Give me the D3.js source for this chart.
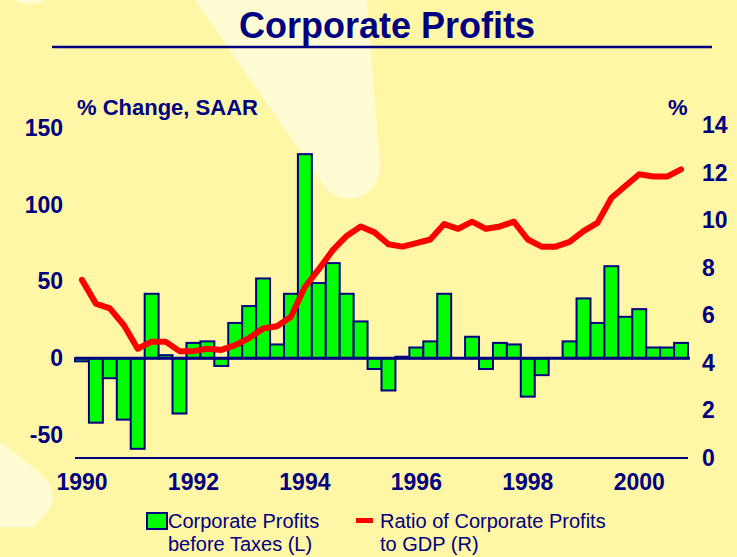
<!DOCTYPE html>
<html>
<head>
<meta charset="utf-8">
<script src="https://cdn.jsdelivr.net/npm/d3@7"></script>
<style>
  body { margin: 0; background: #fff6a6; }
  svg { display: block; font-family: "Liberation Sans", Arial, sans-serif; }
</style>
</head>
<body>
<script>
let width = 737;
let height = 557;

// quarterly data, 1990Q1 .. 2000Q4
let years = [1990, 1991, 1992, 1993, 1994, 1995, 1996, 1997, 1998, 1999, 2000];
let profitChange = [
  -2, -42, -13, -40,    // 1990
  -59, 42, 2, -36,      // 1991
  10, 11, -5, 23,       // 1992
  34, 52, 9, 42,        // 1993
  133, 49, 62, 42,      // 1994
  24, -7, -21, 1,       // 1995
  7, 11, 42, 0,         // 1996
  14, -7, 10, 9,        // 1997
  -25, -11, 0, 11,      // 1998
  39, 23, 60, 27,       // 1999
  32, 7, 7, 10          // 2000
];
let profitRatio = [
  7.5, 6.5, 6.3, 5.6,
  4.6, 4.9, 4.9, 4.5,
  4.5, 4.6, 4.55, 4.75,
  5.05, 5.45, 5.55, 5.95,
  7.2, 7.95, 8.75, 9.35,
  9.75, 9.5, 9.0, 8.9,
  9.05, 9.2, 9.85, 9.65,
  9.95, 9.65, 9.75, 9.95,
  9.2, 8.9, 8.9, 9.1,
  9.55, 9.9, 10.95, 11.45,
  11.95, 11.85, 11.85, 12.15
];
let leftTicks = [-50, 0, 50, 100, 150];
let rightTicks = [0, 2, 4, 6, 8, 10, 12, 14];
let yearTicks = [1990, 1992, 1994, 1996, 1998, 2000];
let legendItems = [
  { kind: "bar", lines: ["Corporate Profits", "before Taxes (L)"] },
  { kind: "line", lines: ["Ratio of Corporate Profits", "to GDP (R)"] }
];

let quarters = years.flatMap(y => [1, 2, 3, 4].map(q => y + "Q" + q));

let navy = "#000080";
let green = "#00ff00";
let red = "#ff0000";

let svg = d3.select("body").append("svg")
            .attr("width", width)
            .attr("height", height);

// background decoration
svg.append("rect").attr("width", width).attr("height", height).attr("fill", "#fff6a6");
svg.append("path")
   .attr("d", "M195,0 L367,0 L380,165 Q381,185 362,196 Q345,204 327,190 Z")
   .attr("fill", "#fffcd4");
svg.append("path")
   .attr("d", "M0,442 L33,467 Q52,480 53,497 Q53,510 33,527 L0,527 Z")
   .attr("fill", "#fffcd4");
svg.append("ellipse").attr("cx", 30).attr("cy", 0).attr("rx", 14).attr("ry", 4).attr("fill", "#fffcd4");

let plotLeft = 75;
let plotRight = 688;

let x = d3.scaleBand().domain(quarters).range([plotLeft, plotRight]).padding(0);
let yLeft = d3.scaleLinear().domain([-65, 152]).range([458, 125]);
let yRight = d3.scaleLinear().domain([0, 14]).range([458, 125.5]);

// title
svg.append("text")
   .attr("x", 387).attr("y", 38)
   .attr("text-anchor", "middle")
   .attr("font-size", 36).attr("font-weight", "bold")
   .attr("fill", navy)
   .text("Corporate Profits");
svg.append("line")
   .attr("x1", 52).attr("x2", 712).attr("y1", 47).attr("y2", 47)
   .attr("stroke", navy).attr("stroke-width", 2.5);

// axis titles
svg.append("text").attr("x", 77).attr("y", 115)
   .attr("font-size", 22).attr("font-weight", "bold").attr("fill", navy)
   .text("% Change, SAAR");
svg.append("text").attr("x", 668).attr("y", 115)
   .attr("font-size", 22).attr("font-weight", "bold").attr("fill", navy)
   .text("%");

function styleAxis(g) {
  g.select(".domain").remove();
  g.selectAll("text")
   .attr("font-size", 23).attr("font-weight", "bold")
   .attr("fill", navy)
   .attr("font-family", "\"Liberation Sans\", Arial, sans-serif");
}

svg.append("g")
   .attr("transform", "translate(" + plotLeft + ",0)")
   .call(d3.axisLeft(yLeft).tickValues(leftTicks).tickFormat(d => String(d)).tickSize(0).tickPadding(12))
   .call(styleAxis);

svg.append("g")
   .attr("transform", "translate(" + plotRight + ",0)")
   .call(d3.axisRight(yRight).tickValues(rightTicks).tickFormat(d => String(d)).tickSize(0).tickPadding(14))
   .call(styleAxis);

svg.append("g")
   .attr("transform", "translate(0,458)")
   .call(d3.axisBottom(x)
           .tickValues(yearTicks.map(y => y + "Q1"))
           .tickFormat(d => d.slice(0, 4))
           .tickSize(0).tickPadding(16))
   .call(styleAxis);

// bottom baseline
svg.append("line")
   .attr("x1", plotLeft).attr("x2", plotRight)
   .attr("y1", 458).attr("y2", 458)
   .attr("stroke", navy).attr("stroke-width", 2);

// bars
svg.append("g").selectAll("rect")
   .data(profitChange)
   .join("rect")
   .attr("x", (d, i) => x(quarters[i]))
   .attr("width", x.bandwidth())
   .attr("y", d => yLeft(Math.max(0, d)))
   .attr("height", d => Math.abs(yLeft(d) - yLeft(0)))
   .attr("fill", green)
   .attr("stroke", navy)
   .attr("stroke-width", 2);

// zero line
svg.append("line")
   .attr("x1", plotLeft).attr("x2", plotRight + 2)
   .attr("y1", yLeft(0)).attr("y2", yLeft(0))
   .attr("stroke", navy).attr("stroke-width", 3);

// ratio line
let line = d3.line()
             .x((d, i) => x(quarters[i]) + x.bandwidth() / 2)
             .y(d => yRight(d));

svg.append("path")
   .datum(profitRatio)
   .attr("d", line)
   .attr("fill", "none")
   .attr("stroke", red)
   .attr("stroke-width", 6)
   .attr("stroke-linejoin", "round")
   .attr("stroke-linecap", "round");

// legend
let legendX = [146, 356];
let legend = svg.append("g").selectAll("g")
                .data(legendItems)
                .join("g")
                .attr("transform", (d, i) => "translate(" + legendX[i] + ",0)");

legend.filter(d => d.kind === "bar")
      .append("rect")
      .attr("x", 1).attr("y", 513).attr("width", 20).attr("height", 16)
      .attr("fill", green).attr("stroke", navy).attr("stroke-width", 2);

legend.filter(d => d.kind === "line")
      .append("rect")
      .attr("x", 0).attr("y", 518).attr("width", 17).attr("height", 5)
      .attr("fill", red);

legend.each(function(d) {
  let g = d3.select(this);
  let tx = d.kind === "bar" ? 22 : 24;
  d.lines.forEach((t, j) => {
    g.append("text")
     .attr("x", tx).attr("y", 528 + j * 23)
     .attr("font-size", 20)
     .attr("fill", navy)
     .text(t);
  });
});
</script>
</body>
</html>
